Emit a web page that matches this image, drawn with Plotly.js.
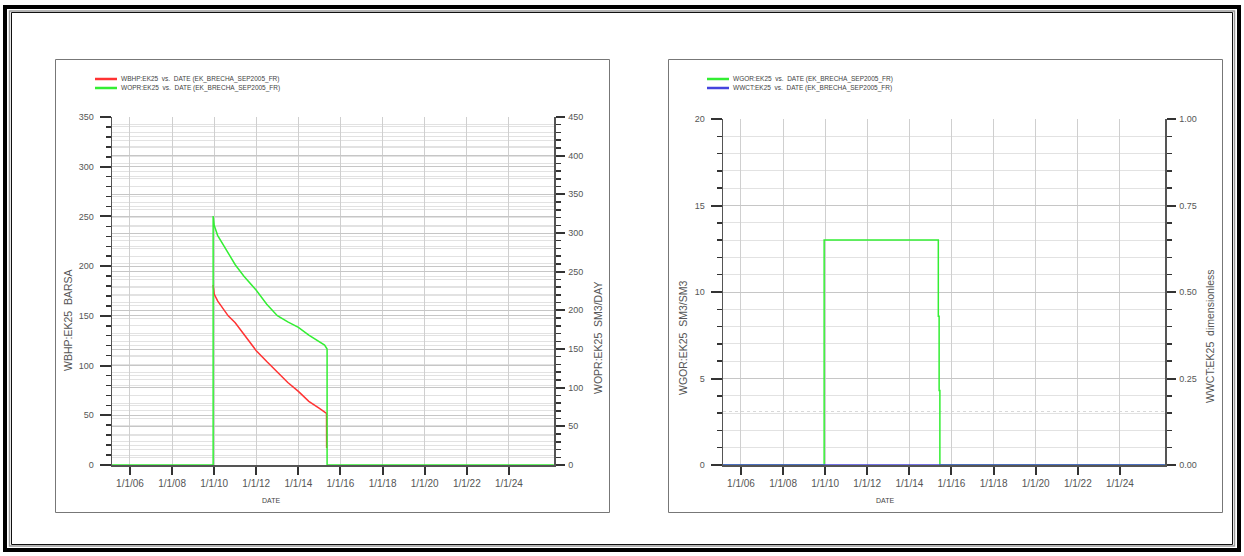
<!DOCTYPE html>
<html>
<head>
<meta charset="utf-8">
<script src="https://cdn.plot.ly/plotly-3.0.1.min.js"></script>
<style>html,body{margin:0;padding:0;background:#fff;}#chart{width:1244px;height:556px;}</style>
</head>
<body>
<div id="chart"></div>
<script>
// ---------- data ----------
const wbhpDates = ['2009-12-14','2010-01-01','2010-03-01','2010-06-01','2010-09-01','2011-01-01','2011-06-01','2012-01-01','2012-07-01','2013-01-01','2013-07-01','2014-01-01','2014-07-01','2015-01-01','2015-05-04','2015-05-06'];
const wbhpValues = [181, 172, 165, 157, 150, 143, 131, 115, 104, 93, 83, 74, 64, 57, 52, 17];

const woprDates = ['2005-02-23','2009-12-14','2009-12-14','2010-01-01','2010-03-01','2010-06-01','2010-09-01','2011-01-01','2011-06-01','2012-01-01','2012-07-01','2013-01-01','2013-07-01','2014-01-01','2014-07-01','2015-01-01','2015-04-01','2015-05-14','2015-05-14','2026-02-20'];
const woprValues = [0, 0, 322, 310, 297, 285, 273, 259, 244, 226, 208, 193, 185, 178, 168, 160, 155, 150, 0, 0];

const wgorDates = ['2005-02-23','2009-12-14','2009-12-14','2015-05-18','2015-05-18','2015-06-01','2015-06-01','2015-06-14','2015-06-14','2026-02-20'];
const wgorValues = [0, 0, 13, 13, 8.6, 8.6, 4.3, 4.3, 0, 0];

const wwctDates = ['2005-02-23','2026-02-20'];
const wwctValues = [0, 0];

const xTickVals = ['2006-01-01','2008-01-01','2010-01-01','2012-01-01','2014-01-01','2016-01-01','2018-01-01','2020-01-01','2022-01-01','2024-01-01'];
const xTickText = ['1/1/06','1/1/08','1/1/10','1/1/12','1/1/14','1/1/16','1/1/18','1/1/20','1/1/22','1/1/24'];

const legendLeft = ['WBHP:EK25  vs.  DATE (EK_BRECHA_SEP2005_FR)','WOPR:EK25  vs.  DATE (EK_BRECHA_SEP2005_FR)'];
const legendRight = ['WGOR:EK25  vs.  DATE (EK_BRECHA_SEP2005_FR)','WWCT:EK25  vs.  DATE (EK_BRECHA_SEP2005_FR)'];

// ---------- layout helpers ----------
const W = 1244, H = 556;
const px = x => x / W;
const py = y => 1 - y / H;
const RED = '#ff3333', GREEN = '#33ee33', BLUE = '#4444dd';
const tickFont = {family:'Liberation Sans, Arial, sans-serif', size:9, color:'#555'};
const titleFont = {family:'Liberation Sans, Arial, sans-serif', size:10.5, color:'#555'};
const legFont = {family:'Liberation Sans, Arial, sans-serif', size:6.5, color:'#444'};
const xRange = ['2005-02-23','2026-02-22'];

function xAxis(domain, anchor){
  return {type:'date', domain:domain, anchor:anchor, range:xRange,
    tickmode:'array', tickvals:xTickVals, ticktext:xTickText,
    ticks:'outside', ticklen:8, tickwidth:2, tickcolor:'#333',
    showline:true, linecolor:'#555', linewidth:1.5,
    showgrid:true, gridcolor:'#cfcfcf', gridwidth:1, zeroline:false,
    tickfont:{family:'Liberation Sans, Arial, sans-serif', size:10, color:'#555'},
    layer:'below traces', fixedrange:true};
}
function yAxis(opts){
  return Object.assign({ticks:'outside', ticklen:11, tickwidth:2, tickcolor:'#333',
    showline:true, linecolor:'#555', linewidth:1.5,
    showgrid:true, gridcolor:'#c6c6c6', gridwidth:1, zeroline:false,
    tickfont:tickFont, layer:'below traces', fixedrange:true}, opts);
}

const traces = [
  {x:wbhpDates, y:wbhpValues, type:'scatter', mode:'lines', line:{color:RED, width:1.5}, xaxis:'x', yaxis:'y', name:'WBHP'},
  {x:woprDates, y:woprValues, type:'scatter', mode:'lines', line:{color:GREEN, width:1.5}, xaxis:'x', yaxis:'y2', name:'WOPR'},
  {x:wgorDates, y:wgorValues, type:'scatter', mode:'lines', line:{color:GREEN, width:1.5}, xaxis:'x2', yaxis:'y3', name:'WGOR'},
  {x:wwctDates, y:wwctValues, type:'scatter', mode:'lines', line:{color:BLUE, width:1.5}, xaxis:'x2', yaxis:'y4', name:'WWCT'}
];

const shapes = [
  // outer frame
  {type:'rect', xref:'paper', yref:'paper', x0:px(5), x1:px(1239), y0:py(7), y1:py(550), line:{color:'#000', width:4}},
  {type:'rect', xref:'paper', yref:'paper', x0:px(9.5), x1:px(1234.5), y0:py(11), y1:py(546), line:{color:'#9a9a9a', width:1.5}},
  {type:'rect', xref:'paper', yref:'paper', x0:px(11.5), x1:px(1232.5), y0:py(12.5), y1:py(544.5), line:{color:'#111', width:1}},
  // panel boxes
  {type:'rect', xref:'paper', yref:'paper', x0:px(55.5), x1:px(609.5), y0:py(59.5), y1:py(512.5), line:{color:'#777', width:1}},
  {type:'rect', xref:'paper', yref:'paper', x0:px(668.5), x1:px(1222.5), y0:py(59.5), y1:py(512.5), line:{color:'#777', width:1}},
  // legend swatches
  {type:'line', xref:'paper', yref:'paper', x0:px(95), x1:px(117), y0:py(79), y1:py(79), line:{color:RED, width:2.5}},
  {type:'line', xref:'paper', yref:'paper', x0:px(95), x1:px(117), y0:py(88), y1:py(88), line:{color:GREEN, width:2.5}},
  {type:'line', xref:'paper', yref:'paper', x0:px(707), x1:px(729), y0:py(79), y1:py(79), line:{color:GREEN, width:2.5}},
  {type:'line', xref:'paper', yref:'paper', x0:px(707), x1:px(729), y0:py(88), y1:py(88), line:{color:BLUE, width:2.5}},
  // faint dotted line in right panel
  {type:'line', xref:'paper', yref:'paper', x0:px(723), x1:px(1165), y0:py(411.5), y1:py(411.5), line:{color:'#d8d8d8', width:1, dash:'dot'}, layer:'below'}
];

function ann(text, x, y, font, extra){
  return Object.assign({text:text, xref:'paper', yref:'paper', x:px(x), y:py(y), showarrow:false, font:font, xanchor:'center', yanchor:'middle'}, extra||{});
}
const annotations = [
  ann(legendLeft[0], 119, 79, legFont, {xanchor:'left'}),
  ann(legendLeft[1], 119, 88, legFont, {xanchor:'left'}),
  ann(legendRight[0], 731, 79, legFont, {xanchor:'left'}),
  ann(legendRight[1], 731, 88, legFont, {xanchor:'left'}),
  ann('WBHP:EK25  BARSA', 68, 320, titleFont, {textangle:-90}),
  ann('WOPR:EK25  SM3/DAY', 598, 338, titleFont, {textangle:-90}),
  ann('WGOR:EK25  SM3/SM3', 683, 338, titleFont, {textangle:-90}),
  ann('WWCT:EK25  dimensionless', 1210, 336, titleFont, {textangle:-90}),
  ann('DATE', 271, 500, {family:'Liberation Sans Narrow, Liberation Sans, Arial, sans-serif', size:7, color:'#444'}),
  ann('DATE', 885, 500, {family:'Liberation Sans Narrow, Liberation Sans, Arial, sans-serif', size:7, color:'#444'})
];

const layout = {
  width:W, height:H, margin:{l:0, r:0, t:0, b:0},
  paper_bgcolor:'#fff', plot_bgcolor:'rgba(0,0,0,0)', showlegend:false,
  xaxis: xAxis([px(112), px(554)], 'y'),
  xaxis2: xAxis([px(723), px(1165)], 'y3'),
  yaxis: yAxis({domain:[py(465), py(117)], anchor:'x', range:[0,350], tickmode:'linear', tick0:0, dtick:50,
    ticklabelstandoff:4, minor:{dtick:10, ticks:'outside', ticklen:5, tickwidth:1.5, tickcolor:'#333', showgrid:true, gridcolor:'#e2e2e2'}}),
  yaxis2: yAxis({overlaying:'y', side:'right', anchor:'x', range:[0,450], tickmode:'linear', tick0:0, dtick:50, ticklen:9,
    ticklabelstandoff:2, minor:{dtick:10, ticks:'outside', ticklen:5, tickwidth:1.5, tickcolor:'#333', showgrid:true, gridcolor:'#e2e2e2'}}),
  yaxis3: yAxis({domain:[py(465), py(119)], anchor:'x2', range:[0,20], tickmode:'linear', tick0:0, dtick:5,
    ticklabelstandoff:4, minor:{dtick:1, ticks:'outside', ticklen:5, tickwidth:1.5, tickcolor:'#333', showgrid:true, gridcolor:'#e2e2e2'}}),
  yaxis4: yAxis({overlaying:'y3', side:'right', anchor:'x2', range:[0,1], tickmode:'linear', tick0:0, dtick:0.25, tickformat:'.2f', ticklen:9,
    ticklabelstandoff:2, minor:{dtick:0.05, ticks:'outside', ticklen:5, tickwidth:1.5, tickcolor:'#333', showgrid:true, gridcolor:'#e2e2e2'}}),
  shapes:shapes, annotations:annotations
};

Plotly.newPlot('chart', traces, layout, {displayModeBar:false, staticPlot:true});
</script>
</body>
</html>
